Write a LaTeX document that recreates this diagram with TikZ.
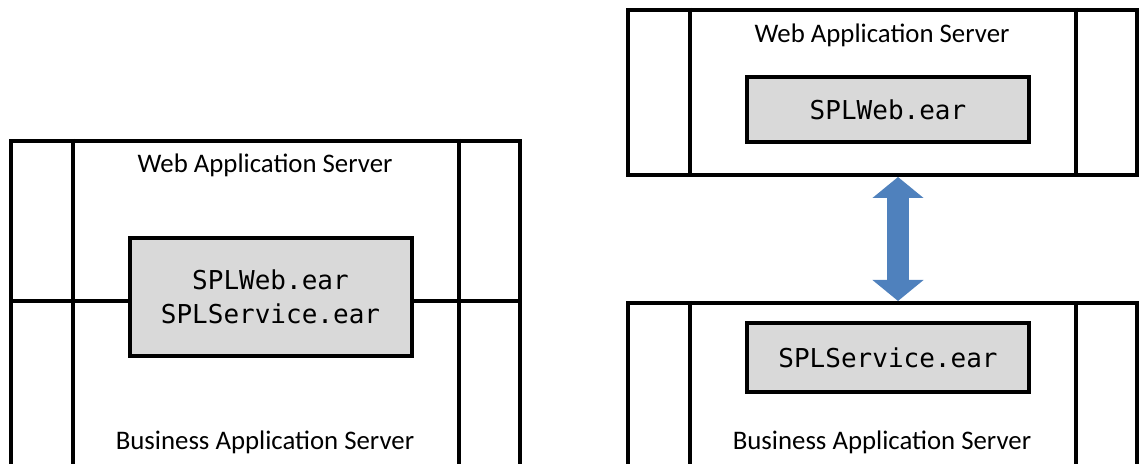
\documentclass[tikz,border=0pt]{standalone}
\usepackage{fontspec}
\setmainfont{Carlito}
\newfontfamily\earfont{DejaVu Sans Mono}
\usepackage{xcolor}
\usepackage{tikz}
\usetikzlibrary{arrows.meta, calc}
\definecolor{earfill}{HTML}{D9D9D9}
\definecolor{linkblue}{HTML}{4F81BD}
\tikzstyle{frame} = [rectangle, minimum width=254.5pt, inner sep=0pt, draw=black, line width=2pt]
\tikzstyle{ear} = [rectangle, minimum width=141pt, inner sep=0pt, align=center, draw=black, line width=2pt, fill=earfill, font=\earfont\fontsize{13}{17}\selectfont]
\tikzstyle{srvtext} = [inner sep=0pt, font=\fontsize{13.4}{15}\selectfont]
\tikzstyle{side} = [line width=2pt]
\tikzstyle{link} = [line width=11pt, draw=linkblue, <->, >={Triangle[length=10.5pt, width=25pt]}]

\begin{document}
\begin{tikzpicture}[x=0.5pt, y=-0.5pt]
\useasboundingbox (0,0) rectangle (1140,464);
\clip (0,0) rectangle (1140,464);

% one server
\node (lframe) [frame, minimum height=174.5pt] at (265.5,315.5) {};
\draw [side] ($(lframe.north west)+(64,0)$) -- ++(0,360);
\draw [side] ($(lframe.north east)+(-63,0)$) -- ++(0,360);
\draw [side] (11,301) -- (520,301);
\node (lweb) [srvtext] at (265,165) {Web Application Server};
\node (lear) [ear, minimum height=59pt] at (270.5,297) {SPLWeb.ear\\SPLService.ear};
\node (lbiz) [srvtext] at (265,442) {Business Application Server};

% two servers
\node (rtop) [frame, minimum height=82.5pt] at (882.5,92.5) {};
\node (rbot) [frame, minimum height=93.5pt] at (882.5,396.5) {};
\draw [side] ($(rtop.north west)+(64,0)$) -- ($(rtop.south west)+(64,0)$);
\draw [side] ($(rtop.north east)+(-63,0)$) -- ($(rtop.south east)+(-63,0)$);
\draw [side] ($(rbot.north west)+(64,0)$) -- ++(0,200);
\draw [side] ($(rbot.north east)+(-63,0)$) -- ++(0,200);
\node (rweb) [srvtext] at (882,35) {Web Application Server};
\node (rwebear) [ear, minimum height=32.5pt] at (888,109.5) {SPLWeb.ear};
\node (rsvcear) [ear, minimum height=34.5pt] at (888,357.5) {SPLService.ear};
\node (rbiz) [srvtext] at (882,442) {Business Application Server};

% Arrows
\draw [link] ($(rtop.south)+(15.5,0)$) -- ($(rbot.north)+(15.5,0)$);

\end{tikzpicture}
\end{document}
